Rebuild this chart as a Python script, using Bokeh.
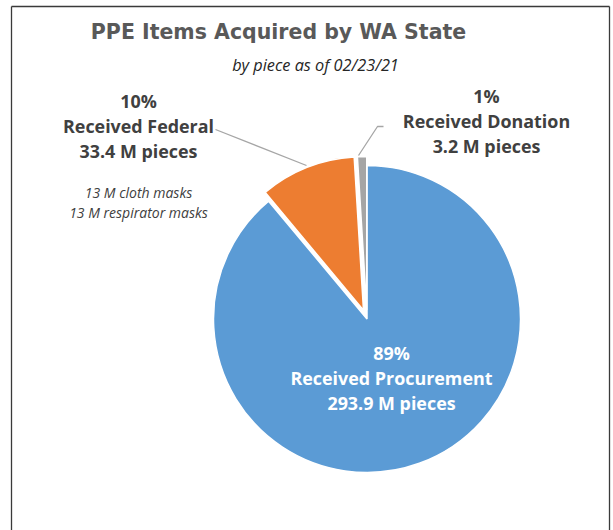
import math
from bokeh.plotting import figure
from bokeh.models import Range1d, ColumnDataSource
from bokeh.core.properties import value
from bokeh.embed import file_html
from bokeh.resources import INLINE

# ---- data ----
categories = ["Received Procurement", "Received Federal", "Received Donation"]
pieces_m = [293.9, 33.4, 3.2]
colors = ["#5B9BD5", "#ED7D31", "#A5A5A5"]
explode_px = [0.0, 9.5, 9.0]
note_lines = ["13 M cloth masks", "13 M respirator masks"]
title_text = "PPE Items Acquired by WA State"
subtitle_text = "by piece as of 02/23/21"

# ---- layout (pixel space, y grows downward) ----
W, H = 613, 530
cx, cy, R = 366.5, 318.5, 153.5
label_pos = [(391, 352), (138, 100), (486, 95)]   # anchor of first line of each label
label_colors = ["white", "#404040", "#404040"]
line_gap = 25

p = figure(width=W, height=H, output_backend="svg", toolbar_location=None,
           x_range=Range1d(0, W), y_range=Range1d(H, 0),
           min_border=0, outline_line_color=None)
p.axis.visible = False
p.grid.visible = False
p.background_fill_color = "white"
p.border_fill_color = "white"

# frame
p.multi_line(xs=[[11, 11], [11, 609], [609, 609]], ys=[[540, 6], [6, 6], [6, 540]],
             line_color="#3a3a3a", line_width=1.3)

# wedges
total = sum(pieces_m)
fracs = [v / total for v in pieces_m]
xs, ys, sa, ea = [], [], [], []
cum = 0.0
for f, d in zip(fracs, explode_px):
    f0, f1 = cum, cum + f
    cum = f1
    start = math.radians(90 - 360 * f1)
    end = math.radians(90 - 360 * f0)
    mid = (start + end) / 2
    xs.append(cx + d * math.cos(mid))
    ys.append(cy - d * math.sin(mid))
    sa.append(start)
    ea.append(end)

src = ColumnDataSource(dict(x=xs, y=ys, start=sa, end=ea, color=colors))
p.wedge(x="x", y="y", radius=R, start_angle="start", end_angle="end",
        direction="anticlock", fill_color="color", line_color="white",
        line_width=1.5, source=src)

# leader lines
p.line(x=[215, 306], y=[129, 165], line_color="#A6A6A6", line_width=1.3)
p.line(x=[358, 377, 383], y=[155, 126, 126], line_color="#A6A6A6", line_width=1.3)

# title / subtitle
p.text(x=[278], y=[31], text=[title_text], text_align="center", text_baseline="middle",
       text_font=value("DejaVu Sans"), text_font_style="bold",
       text_font_size="20.5px", text_color="#595959")
p.text(x=[315], y=[64], text=[subtitle_text], text_align="center", text_baseline="middle",
       text_font=value("Open Sans"), text_font_style="italic",
       text_font_size="16.3px", text_color="#262626")

# slice labels
for i, cat in enumerate(categories):
    pct = round(fracs[i] * 100)
    lines = [f"{pct}%", cat, f"{pieces_m[i]} M pieces"]
    lx, ly = label_pos[i]
    p.text(x=[lx] * 3, y=[ly + k * line_gap for k in range(3)], text=lines,
           text_align="center", text_baseline="middle",
           text_font=value("Open Sans"), text_font_style="bold",
           text_font_size="17.9px", text_color=label_colors[i])

# note
p.text(x=[138, 138], y=[192, 212], text=note_lines, text_align="center",
       text_baseline="middle", text_font=value("Open Sans"), text_font_style="italic",
       text_font_size="14px", text_color="#404040")

open("out.html", "w").write(file_html(p, INLINE))
